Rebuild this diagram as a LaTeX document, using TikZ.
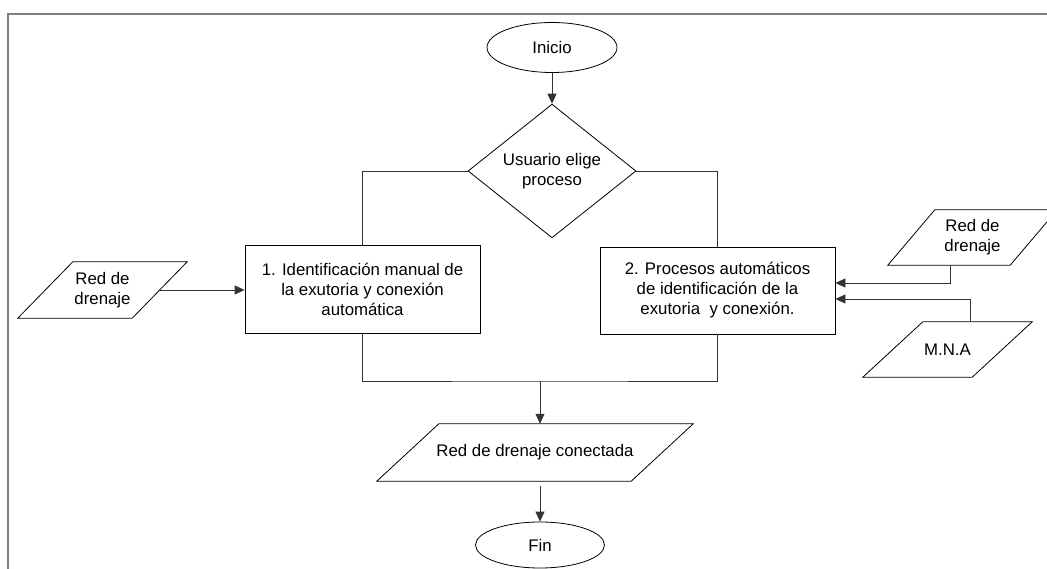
\documentclass[tikz,border=0pt]{standalone}
\usepackage{fontspec}
\setmainfont{Liberation Sans}
\usetikzlibrary{shapes.geometric,arrows.meta}
% outline of a data (parallelogram) node: #1 node name, #2 horizontal slant
\newcommand\drawdata[2]{%
  \draw[outline] ([xshift=#2]#1.north west) -- (#1.north east)
    -- ([xshift=-#2]#1.south east) -- (#1.south west) -- cycle;}
\begin{document}
\begin{tikzpicture}[x=1pt,y=-1pt,
  every node/.style={font=\fontsize{16.8}{20}\selectfont, inner sep=0pt, align=center},
  outline/.style={draw=black, line width=0.8pt},
  terminal/.style={outline, ellipse, minimum width=130pt, minimum height=50pt},
  decision/.style={outline, diamond, minimum width=168pt, minimum height=110pt},
  process/.style={outline, rectangle, minimum width=235pt, minimum height=88pt},
  data/.style={rectangle, minimum width=169pt, minimum height=56pt},
  link/.style={draw=black!80, line width=0.8pt},
  arr/.style={link, -{Triangle[length=10pt,width=9pt]}},
  frame/.style={draw=black!50, line width=1.4pt}
]
\useasboundingbox (0,0) rectangle (1047,569);
% page frame (top and left edges)
\draw[frame] (8,580) -- (8,14) -- (1060,14);

% nodes
\node[terminal] (ini) at (552,47.5) {Inicio};
\node[decision] (dec) at (552,171) {Usuario elige\\proceso};
\node[process] (p1) at (362.5,289) {1. Identificación manual de\\la exutoria y conexión\\automática};
\node[process, minimum height=87pt] (p2) at (717.5,290.5) {2. Procesos automáticos\\de identificación de la\\exutoria~ y conexión.};
\node[data] (in1) at (102.5,290) {Red de\\drenaje};
\node[data, minimum height=55pt] (in2) at (972.5,237.5) {Red de\\drenaje};
\node[data, minimum height=55pt] (in3) at (947.5,349.5) {M.N.A};
\node[data, minimum width=316pt, minimum height=57pt] (out) at (535,452.5) {Red de drenaje conectada};
\node[terminal, minimum width=129pt, minimum height=46pt] (fin) at (540,545) {Fin};
\coordinate (join) at (540,381);

\drawdata{in1}{55pt}
\drawdata{in2}{47pt}
\drawdata{in3}{60pt}
\drawdata{out}{62pt}

% connectors
\draw[arr] (ini.south) -- (dec.north);
\draw[link] (dec.west) -| (p1.north);
\draw[link] (dec.east) -| (p2.north);
\draw[arr] ([xshift=-27.5pt]in1.east) -- (in1.east -| p1.west);
\draw[arr] ([xshift=-22pt]in2.south) |- ([yshift=7.5pt]p2.east);
\draw[arr] ([xshift=23pt]in3.north) |- ([yshift=-8.5pt]p2.east);
\draw[link] (p1.south) |- (join) -| (p2.south);
\draw[arr] (join) -- (join |- out.north);
\draw[arr, shorten <=5pt] (out.south -| fin.north) -- (fin.north);
\end{tikzpicture}
\end{document}
